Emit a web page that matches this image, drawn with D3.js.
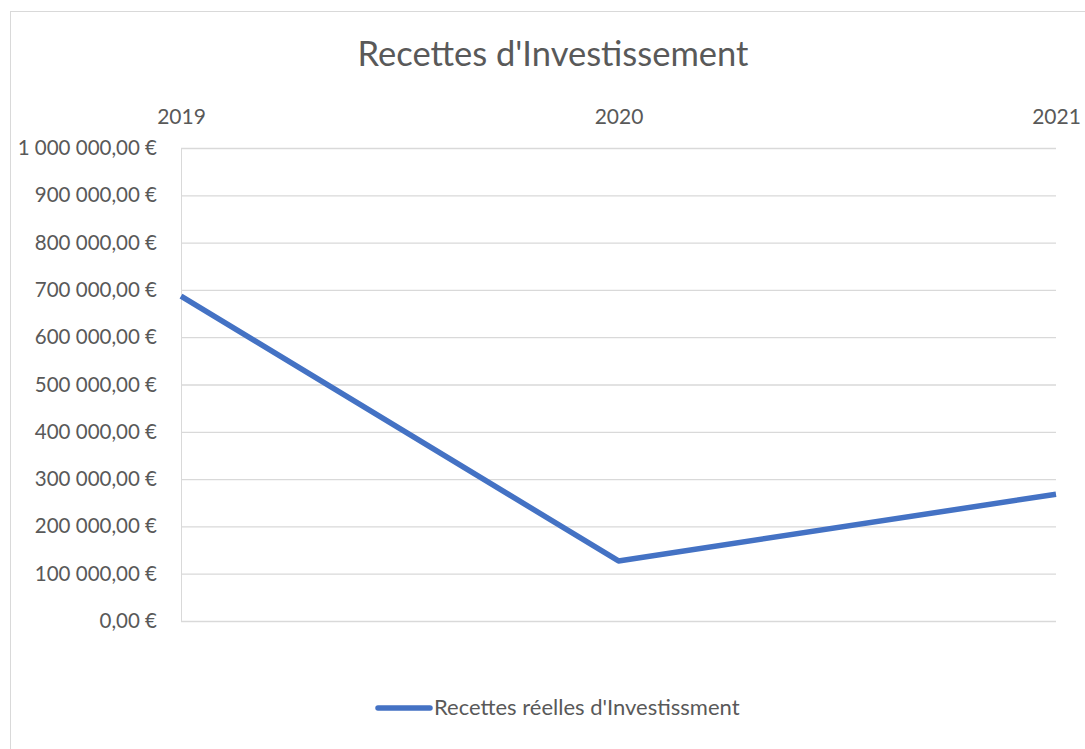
<!DOCTYPE html>
<html><head><meta charset="utf-8">
<script src="https://cdn.jsdelivr.net/npm/d3@7"></script>
<style>body{margin:0;background:#fff;} svg{display:block;font-family:Lato,"Open Sans",sans-serif;}</style>
</head><body>
<svg id="c" width="1085" height="749"></svg>
<script>
const categories = ["2019", "2020", "2021"];
const values = [687000, 127000, 268000];
const yTicks = [0,100000,200000,300000,400000,500000,600000,700000,800000,900000,1000000];
const seriesName = "Recettes réelles d'Investissment";
const title = "Recettes d'Investissement";

const svg = d3.select("#c");
const m = {left:181, right:1056, top:148, bottom:621};
svg.append("rect").attr("x",10.5).attr("y",11.5).attr("width",1090).attr("height",760)
  .attr("fill","#fff").attr("stroke","#d9d9d9").attr("stroke-width",1);

const x = d3.scalePoint().domain(categories).range([m.left, m.right]);
const y = d3.scaleLinear().domain([0,1000000]).range([m.bottom, m.top]);

const fmt = v => {
  const s = d3.format(",.2f")(v);
  return s.replace(/,/g," ").replace(".",",") + " €";
};

const yAxis = d3.axisLeft(y).tickValues(yTicks).tickSize(-(m.right-m.left)).tickFormat(fmt).tickPadding(24);
const gy = svg.append("g").attr("transform",`translate(${m.left},0)`).call(yAxis);
gy.select(".domain").attr("stroke","#d9d9d9");
gy.selectAll(".tick line").attr("stroke","#d9d9d9").attr("stroke-width",1.3);
gy.selectAll(".tick text").attr("fill","#595959").attr("font-size",20.5).attr("font-family","Lato,'Open Sans',sans-serif");

const xAxis = d3.axisTop(x).tickSize(0).tickPadding(0);
const gx = svg.append("g").attr("transform",`translate(0,${m.top-24})`).call(xAxis);
gx.select(".domain").remove();
gx.selectAll(".tick text").attr("fill","#595959").attr("font-size",21).attr("font-family","Lato,'Open Sans',sans-serif");

const line = d3.line().x((d,i)=>x(categories[i])).y(d=>y(d));
svg.append("path").datum(values).attr("d",line).attr("fill","none")
  .attr("stroke","#4472C4").attr("stroke-width",5.5).attr("stroke-linejoin","round");

svg.append("text").attr("x",553).attr("y",66).attr("text-anchor","middle")
  .attr("fill","#595959").attr("font-size",34.5).text(title);

svg.append("line").attr("x1",378).attr("x2",430).attr("y1",708).attr("y2",708)
  .attr("stroke","#4472C4").attr("stroke-width",5.5).attr("stroke-linecap","round");
svg.append("text").attr("x",434).attr("y",715).attr("fill","#595959").attr("font-size",22).text(seriesName);
</script>
</body></html>
